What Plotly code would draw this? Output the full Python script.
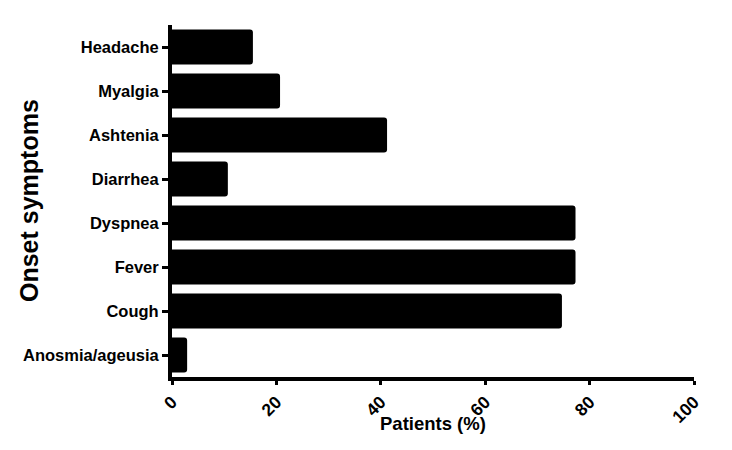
import plotly.graph_objects as go

symptoms = ["Anosmia/ageusia", "Cough", "Fever", "Dyspnea", "Diarrhea", "Ashtenia", "Myalgia", "Headache"]
patients_pct = [2.9, 74.7, 77.3, 77.3, 10.7, 41.2, 20.7, 15.5]
x_ticks = [0, 20, 40, 60, 80, 100]

font_family = "Liberation Sans, Arial, sans-serif"

fig = go.Figure(go.Bar(
    x=patients_pct, y=symptoms, orientation="h",
    marker=dict(color="black", line=dict(width=0)),
    width=0.8,
))

fig.update_layout(
    width=732, height=450,
    margin=dict(l=172, r=38, t=25, b=73),
    plot_bgcolor="white", paper_bgcolor="white",
    barcornerradius=3,
    showlegend=False,
    font=dict(family=font_family, color="black"),
    annotations=[
        dict(text="<b>Onset symptoms</b>", xref="paper", yref="paper", x=0, y=0.5,
             xshift=-143, textangle=-90, showarrow=False, xanchor="center", yanchor="middle",
             font=dict(size=25, family=font_family, color="black")),
        dict(text="<b>Patients (%)</b>", xref="paper", yref="paper", x=0.5, y=0,
             yshift=-46, showarrow=False, xanchor="center", yanchor="middle",
             font=dict(size=18.5, family=font_family, color="black")),
    ],
)

fig.update_xaxes(
    range=[0, 100], tickvals=x_ticks, ticktext=[f"<b>{v}</b>" for v in x_ticks],
    tickangle=-45, tickfont=dict(size=17.5, family=font_family),
    showgrid=False, zeroline=False, automargin=False,
    showline=True, linecolor="black", linewidth=4,
    ticks="outside", ticklen=4, tickwidth=3, tickcolor="black",
)
fig.update_yaxes(
    range=[-0.5, 7.5],
    tickvals=symptoms, ticktext=[f"<b>{s}</b>" for s in symptoms],
    tickfont=dict(size=16.5, family=font_family),
    showgrid=False, zeroline=False, automargin=False,
    showline=True, linecolor="black", linewidth=4,
    ticks="outside", ticklen=6, tickwidth=3, tickcolor="black",
)

fig.write_html(
    "out.html",
    config={"displayModeBar": False},
    post_script="document.body.style.margin='0';document.body.style.overflow='hidden';",
)
